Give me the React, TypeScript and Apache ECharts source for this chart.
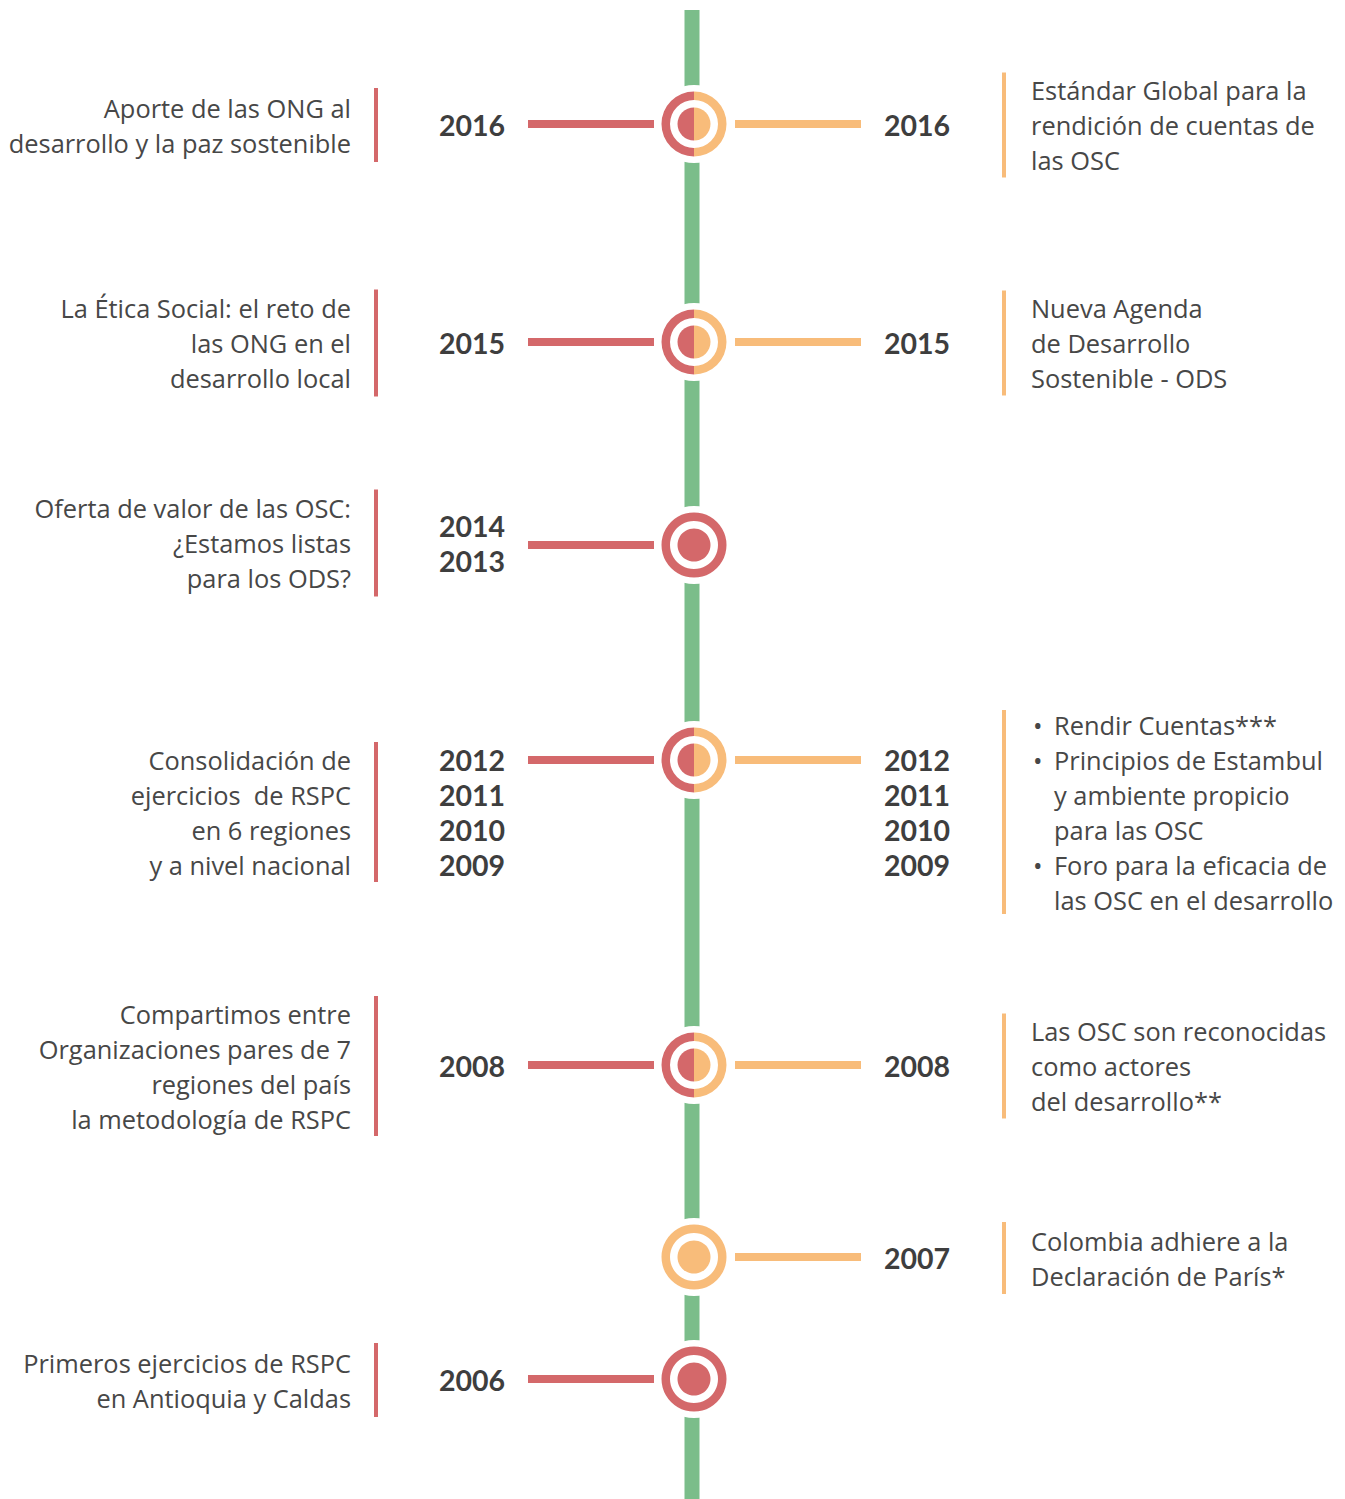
import { useEffect, useRef } from "react";
import * as echarts from "echarts";

// ---------- data ----------
const eventKeys = ["2016", "2015", "2014-2013", "2012-2009", "2008", "2007", "2006"];
const leftYears: string[][] = [["2016"], ["2015"], ["2014", "2013"], ["2012", "2011", "2010", "2009"], ["2008"], [], ["2006"]];
const rightYears: string[][] = [["2016"], ["2015"], [], ["2012", "2011", "2010", "2009"], ["2008"], ["2007"], []];
const leftTexts: string[][] = [
  ["Aporte de las ONG al", "desarrollo y la paz sostenible"],
  ["La Ética Social: el reto de", "las ONG en el", "desarrollo local"],
  ["Oferta de valor de las OSC:", "¿Estamos listas", "para los ODS?"],
  ["Consolidación de", "ejercicios  de RSPC", "en 6 regiones", "y a nivel nacional"],
  ["Compartimos entre", "Organizaciones pares de 7", "regiones del país", "la metodología de RSPC"],
  [],
  ["Primeros ejercicios de RSPC", "en Antioquia y Caldas"],
];
const rightTexts: string[][] = [
  ["Estándar Global para la", "rendición de cuentas de", "las OSC"],
  ["Nueva Agenda", "de Desarrollo", "Sostenible - ODS"],
  [],
  ["• Rendir Cuentas***", "• Principios de Estambul", "y ambiente propicio", "para las OSC", "• Foro para la eficacia de", "las OSC en el desarrollo"],
  ["Las OSC son reconocidas", "como actores", "del desarrollo**"],
  ["Colombia adhiere a la", "Declaración de París*"],
  [],
];

// ---------- layout (pixel units of the hidden axes) ----------
const W = 1345;
const H = 1499;
const CENTER_X = 694;
const circleY = [124, 342, 545, 760, 1065, 1257, 1379];
const blockY = [125, 343, 543, 812, 1066, 1258, 1380];
const LINE_H = 35;

const RED = "#d4686a";
const ORANGE = "#f8bc7a";
const GREEN = "#7bbd8a";
const TEXT = "#474747";
const YEAR = "#3e3e3e";
const FONT = "'Open Sans', 'Noto Sans', sans-serif";
const YEAR_FONT = "Lato, 'Open Sans', sans-serif";

function textEl(text: string, x: number, y: number, align: string, bold: boolean) {
  return {
    type: "text",
    style: {
      text,
      x,
      y,
      align,
      verticalAlign: "middle",
      textAlign: align,
      textVerticalAlign: "middle",
      lineHeight: LINE_H,
      font: bold ? `bold 28.5px ${YEAR_FONT}` : `25.4px ${FONT}`,
      fill: bold ? YEAR : TEXT,
    },
  };
}

function renderEvent(params: any, api: any) {
  const i = params.dataIndex;
  const [cx, cy] = api.coord([api.value(0), api.value(1)]);
  const [, by] = api.coord([api.value(0), api.value(2)]);
  const children: any[] = [];
  const hasL = leftYears[i].length > 0;
  const hasR = rightYears[i].length > 0;

  // white halo interrupting the green axis line
  children.push({ type: "circle", shape: { cx, cy, r: 39 }, style: { fill: "#ffffff" } });

  // connectors
  if (hasL) children.push({ type: "rect", shape: { x: cx - 166, y: cy - 4, width: 126, height: 8 }, style: { fill: RED } });
  if (hasR) children.push({ type: "rect", shape: { x: cx + 41, y: cy - 4, width: 126, height: 8 }, style: { fill: ORANGE } });

  // circle marker
  if (hasL && hasR) {
    const L = [Math.PI / 2, (3 * Math.PI) / 2];
    const R = [-Math.PI / 2, Math.PI / 2];
    children.push({ type: "sector", shape: { cx, cy, r: 32.5, r0: 24, startAngle: L[0], endAngle: L[1], clockwise: true }, style: { fill: RED } });
    children.push({ type: "sector", shape: { cx, cy, r: 32.5, r0: 24, startAngle: R[0], endAngle: R[1], clockwise: true }, style: { fill: ORANGE } });
    children.push({ type: "sector", shape: { cx, cy, r: 16.5, r0: 0, startAngle: L[0], endAngle: L[1], clockwise: true }, style: { fill: RED } });
    children.push({ type: "sector", shape: { cx, cy, r: 16.5, r0: 0, startAngle: R[0], endAngle: R[1], clockwise: true }, style: { fill: ORANGE } });
  } else {
    const c = hasL ? RED : ORANGE;
    children.push({ type: "ring", shape: { cx, cy, r: 32.5, r0: 24 }, style: { fill: c } });
    children.push({ type: "circle", shape: { cx, cy, r: 16.5 }, style: { fill: c } });
  }

  // years
  if (hasL) children.push(textEl(leftYears[i].join("\n"), cx - 189, by, "right", true));
  if (hasR) children.push(textEl(rightYears[i].join("\n"), cx + 190, by, "left", true));

  // left description
  const lt = leftTexts[i];
  if (lt.length) {
    children.push(textEl(lt.join("\n"), 351, by, "right", false));
    const h = lt.length * 33 + 8;
    children.push({ type: "rect", shape: { x: 374, y: by - h / 2, width: 4, height: h }, style: { fill: RED } });
  }
  // right description
  const rt = rightTexts[i];
  if (rt.length) {
    const n = rt.length;
    const bulleted = rt.some((t) => t.startsWith("• "));
    if (bulleted) {
      rt.forEach((t, j) => {
        const y = by + (j - (n - 1) / 2) * LINE_H;
        if (t.startsWith("• ")) {
          children.push(textEl("•", 1033, y, "left", false));
          children.push(textEl(t.slice(2), 1054, y, "left", false));
        } else {
          children.push(textEl(t, 1054, y, "left", false));
        }
      });
    } else {
      children.push(textEl(rt.join("\n"), 1031, by, "left", false));
    }
    const h = n * 33 + 6;
    children.push({ type: "rect", shape: { x: 1002, y: by - h / 2, width: 4, height: h }, style: { fill: ORANGE } });
  }
  return { type: "group", children };
}

export default function App() {
  const ref = useRef<HTMLDivElement>(null);
  useEffect(() => {
    if (!ref.current) return;
    const chart = echarts.init(ref.current, undefined, { renderer: "svg" });
    chart.setOption({
      animation: false,
      backgroundColor: "#ffffff",
      grid: { left: 0, right: 0, top: 0, bottom: 0 },
      xAxis: { type: "value", min: 0, max: W, show: false },
      yAxis: { type: "value", min: 0, max: H, inverse: true, show: false },
      series: [
        {
          type: "custom",
          z: 1,
          silent: true,
          data: [[CENTER_X - 2, 10, H]],
          renderItem: (params: any, api: any) => {
            const [x, y0] = api.coord([api.value(0), api.value(1)]);
            const [, y1] = api.coord([api.value(0), api.value(2)]);
            return { type: "rect", shape: { x: x - 7.5, y: y0, width: 15, height: y1 - y0 }, style: { fill: GREEN } };
          },
        },
        {
          type: "custom",
          z: 2,
          silent: true,
          data: eventKeys.map((k, i) => ({ name: k, value: [CENTER_X, circleY[i], blockY[i]] })),
          renderItem: renderEvent,
        },
      ],
    });
    return () => chart.dispose();
  }, []);
  return <div ref={ref} style={{ position: "absolute", left: 0, top: 0, width: W, height: H }} />;
}
